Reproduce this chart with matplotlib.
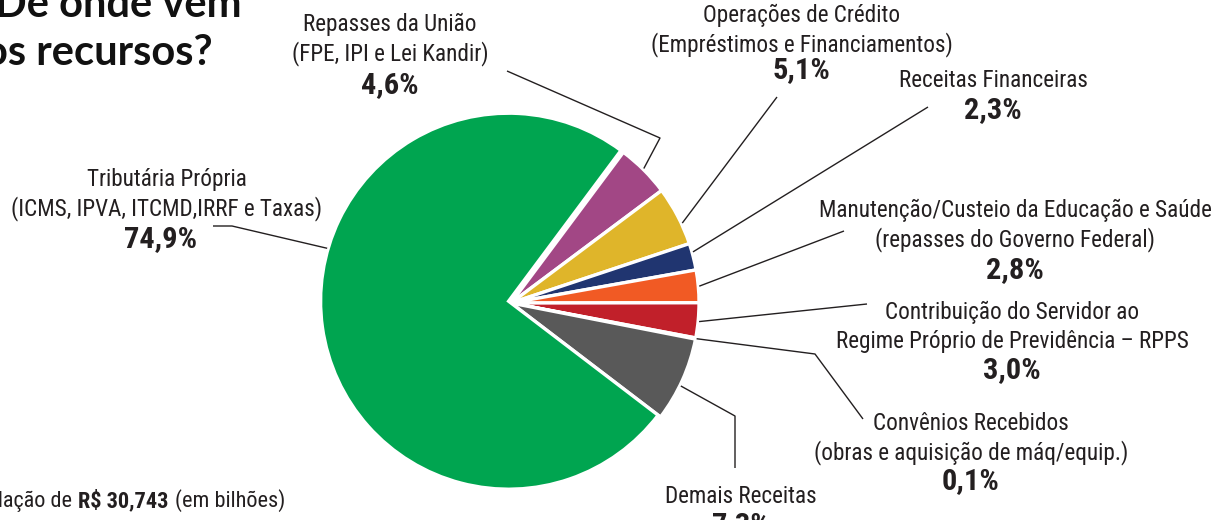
import matplotlib
matplotlib.use("Agg")
import matplotlib.pyplot as plt
import numpy as np
from matplotlib import font_manager

# ---------------- data ----------------
categories = [
    "Repasses da União\n(FPE, IPI e Lei Kandir)",
    "Operações de Crédito\n(Empréstimos e Financiamentos)",
    "Receitas Financeiras",
    "Manutenção/Custeio da Educação e Saúde\n(repasses do Governo Federal)",
    "Contribuição do Servidor ao\nRegime Próprio de Previdência – RPPS",
    "Convênios Recebidos\n(obras e aquisição de máq/equip.)",
    "Demais Receitas",
    "Tributária Própria\n(ICMS, IPVA, ITCMD,IRRF e Taxas)",
]
shares = [4.6, 5.1, 2.3, 2.8, 3.0, 0.1, 7.3, 74.9]
colors = ["#A24785", "#DFB52A", "#203570", "#F15A24", "#C1202A", "#111111",
          "#595959", "#00A550"]
title_lines = ["De onde vem", "os recursos?"]
total_text = ["Arrecadação de ", "R$ 30,743", " (em bilhões)"]

# ---------------- fonts ----------------
names = {f.name for f in font_manager.fontManager.ttflist}
cond = "DejaVu Sans"
for cand in ["Liberation Sans Narrow", "Roboto Condensed", "Open Sans Condensed",
             "Noto Sans Condensed"]:
    if cand in names:
        cond = cand
        break
title_font = "Lato" if "Lato" in names else "DejaVu Sans"

W, H = 1211, 520
fig = plt.figure(figsize=(W / 100, H / 100), dpi=100)
ax = fig.add_axes([0, 0, 1, 1])
renderer = fig.canvas.get_renderer()

def Y(py):
    return H - py

def fit_size(sample, target_px, weight="normal", base=20.0, family=None):
    t = ax.text(0, 0, sample, fontsize=base, family=family or cond,
                fontweight=weight)
    w = t.get_window_extent(renderer).width
    t.remove()
    return base * target_px / w

TXT = "#231F20"

# ---------------- pie ----------------
cx, cy, R = 511, 303, 188
wedges, _ = ax.pie(shares, colors=colors, startangle=53.3, counterclock=False,
                   center=(cx, Y(cy)), radius=R, frame=True,
                   wedgeprops=dict(edgecolor="white", linewidth=2.4))
g = wedges[-1]
ang = np.deg2rad(143)
g.set_center((cx + 3 * np.cos(ang), Y(cy) + 3 * np.sin(ang)))

ax.set_xlim(0, W)
ax.set_ylim(0, H)
ax.set_axis_off()

fs_lab = fit_size("Manutenção/Custeio da Educação e Saúde", 390)
fs_pct = fit_size("74,9%", 73, weight="bold")
fs_tot = fit_size("(em bilhões)", 110)

# ---------------- labels (layout) ----------------
label_pos = [
    (390, 31, 93, 0),
    (802, 22, 78, 0),
    (993, 87, 118, 0),
    (1015, 217, 278, 0),
    (1012, 319, 378, 0),
    (971, 430, 489, 0),
    (741, 503, 533, 0),
    (167, 186, 247, -6),
]
pitch = 29
elbows = [
    [(507, 71), (660, 138)],
    [(777, 97)],
    [(928, 107)],
    [(844, 231)],
    [(867, 304)],
    [(863, 419), (815, 354)],
    [(735, 468), (735, 416)],
    [(213, 226), (232, 226)],
]
frac_on_wedge = [0.52, 0.36, 0.67, 0.5, 0.47, 0.5, 0.43, 0.41]

for i, (cat, val) in enumerate(zip(categories, shares)):
    x, b1, pb, pdx = label_pos[i]
    for k, line in enumerate(cat.split("\n")):
        ax.text(x, Y(b1 + k * pitch), line, ha="center", va="baseline",
                fontsize=fs_lab, family=cond, color=TXT)
    ax.text(x + pdx, Y(pb), f"{val:.1f}%".replace(".", ","), ha="center",
            va="baseline", fontsize=fs_pct, family=cond, fontweight="bold",
            color=TXT)
    w = wedges[i]
    t1, t2 = w.theta1, w.theta2
    a = np.deg2rad(t1 + (t2 - t1) * frac_on_wedge[i])
    wc = w.center
    ex, ey = wc[0] + (R + 1) * np.cos(a), wc[1] + (R + 1) * np.sin(a)
    pts = [(px, Y(py)) for px, py in elbows[i]] + [(ex, ey)]
    xs, ys = zip(*pts)
    ax.plot(xs, ys, color=TXT, lw=1.0, solid_capstyle="butt", zorder=5)

# ---------------- title ----------------
for line, xr, yb in zip(title_lines, [242, 213], [17, 65]):
    ax.text(xr, Y(yb), line, ha="right", va="baseline", fontsize=30,
            family=title_font, fontweight="bold", color="#111111")

# ---------------- total line (bottom-left) ----------------
xr = 285
weights = ["normal", "bold", "normal"]
for txt, wt in zip(reversed(total_text), reversed(weights)):
    t = ax.text(xr, Y(507), txt.strip(), ha="right", va="baseline",
                fontsize=fs_tot, family=cond, fontweight=wt, color=TXT)
    bb = t.get_window_extent(renderer)
    xr = bb.x0 - 6

fig.savefig("out.png", dpi=100)
